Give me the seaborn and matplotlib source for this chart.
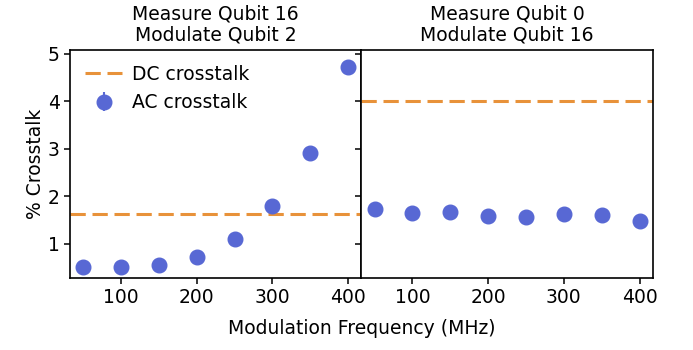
import numpy as np
import matplotlib
matplotlib.use("Agg")
import matplotlib.pyplot as plt
import seaborn as sns

freqs = [50, 100, 150, 200, 250, 300, 350, 400]
ac_left = [0.51, 0.50, 0.56, 0.73, 1.11, 1.79, 2.91, 4.73]
ac_right = [1.74, 1.65, 1.67, 1.59, 1.57, 1.63, 1.60, 1.48]
err_left = [0.03, 0.03, 0.03, 0.03, 0.03, 0.03, 0.03, 0.03]
err_right = [0.03, 0.03, 0.03, 0.03, 0.03, 0.03, 0.03, 0.03]
dc_left = 1.62
dc_right = 4.01
titles = ["Measure Qubit 16\nModulate Qubit 2", "Measure Qubit 0\nModulate Qubit 16"]

sns.set_style("ticks")
plt.rcParams['font.family'] = ['DejaVu Sans']
plt.rcParams['font.size'] = 13.5
for k in ['text.color', 'axes.labelcolor', 'xtick.color', 'ytick.color', 'axes.edgecolor']:
    plt.rcParams[k] = 'black'

blue = '#5868d4'
orange = '#e8923a'
fs = 13.5

fig, axes = plt.subplots(1, 2, sharey=True, figsize=(6.93, 3.5), dpi=100)
fig.subplots_adjust(left=0.101, right=0.942, bottom=0.206, top=0.857, wspace=0)

for ax, ac, err, dc, t in zip(axes, [ac_left, ac_right], [err_left, err_right],
                              [dc_left, dc_right], titles):
    ax.axhline(dc, color=orange, ls='--', lw=2.2, dashes=(5, 2.2), label='DC crosstalk')
    ax.errorbar(freqs, ac, yerr=err, fmt='o', ms=10.5, color=blue, ecolor=blue,
                label='AC crosstalk')
    ax.set_title(t, fontsize=fs, pad=7, linespacing=1.15)
    ax.set_xticks([100, 200, 300, 400])
    ax.tick_params(labelsize=fs, length=4, width=1.1)
    for s in ax.spines.values():
        s.set_linewidth(1.2)

axes[0].set_ylim(0.28, 5.08)
axes[0].set_yticks([1, 2, 3, 4, 5])
axes[0].set_ylabel('% Crosstalk', fontsize=fs, labelpad=2)
axes[0].legend(loc='upper left', frameon=False, fontsize=fs, borderaxespad=0.4,
               handletextpad=0.5)
fig.text(0.522, 0.045, 'Modulation Frequency (MHz)', ha='center', fontsize=fs)

fig.savefig('out.png', dpi=100)
